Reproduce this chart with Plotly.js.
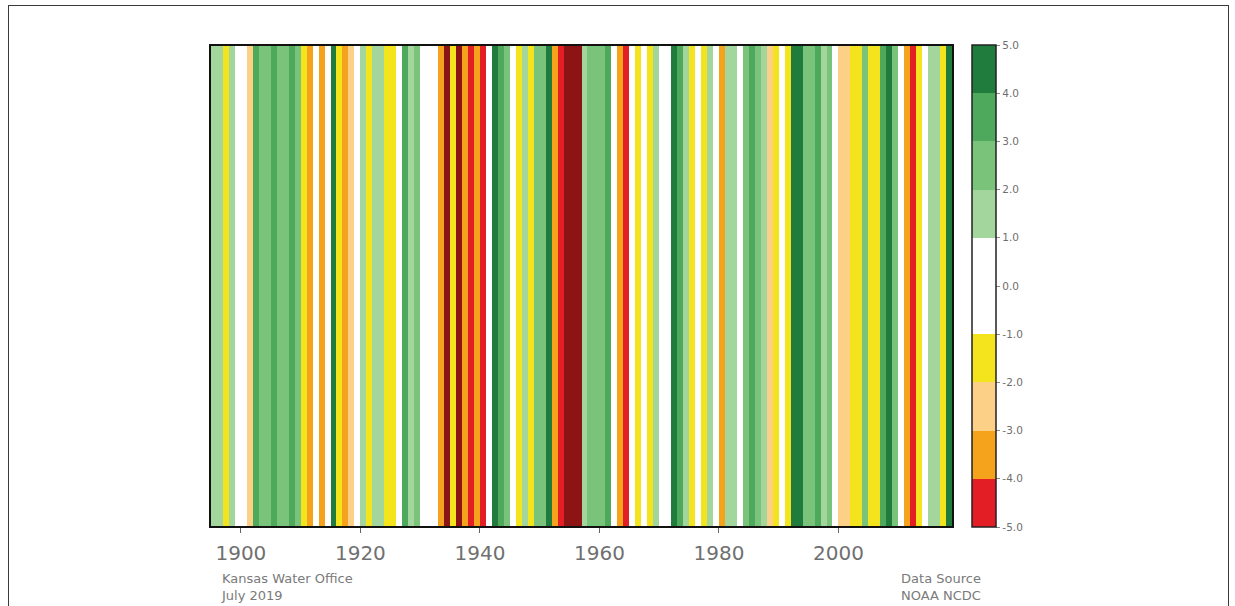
<!DOCTYPE html>
<html>
<head>
<meta charset="utf-8">
<script src="https://cdn.plot.ly/plotly-3.0.1.min.js"></script>
<style>
  html, body { margin: 0; padding: 0; background: #ffffff; }
  #chart { width: 1235px; height: 606px; }
  #frame { position: absolute; left: 8px; top: 5px; width: 1219px; height: 640px;
           border: 1px solid #3a3a3a; pointer-events: none; }
</style>
</head>
<body>
<div id="chart"></div>
<div id="frame"></div>
<script>
// Annual Palmer drought index, Kansas
const firstYear = 1895;
const pdsi = [
  1.4, 1.2, -1.2, 1.3, 0.3,
  -0.2, -2.4, 3.3, 2.6, 2.8, 3.4, 2.6, 2.9, 3.5, 2.7,
  -1.6, -3.2, 0.2, -3.4, 0.5, 4.8, -1.5, -3.3, -2.6, 0.6,
  1.2, -1.4, 1.6, 1.3, -1.3, -1.8, 0.3, 3.3, 1.6, 2.6,
  -0.6, 0.4, 0.1, -3.8, -5.6, -1.8, -5.2, -3.6, -4.2, -3.4,
  -4.5, 0.6, 4.4, 3.8, 2.4, 0.4, -1.4, 1.6, -1.1, 2.0,
  2.6, 4.7, -3.6, -4.6, -5.3, -5.7, -5.8, 1.5, 2.6, 2.3,
  2.9, 3.5, 0.6, -3.4, -4.4, 0.3, -1.8, -0.7, -1.2, 1.7,
  0.2, -0.3, 4.4, 3.3, 1.7, -1.2, 0.4, -1.1, 1.3, 0.5,
  -3.5, 1.6, 1.8, 0.4, 2.6, 3.4, 2.5, 1.2, -2.5, -1.3,
  0.3, -1.4, 4.2, 4.8, 2.3, 2.8, 3.1, 1.8, 2.9, 0.5,
  -2.3, -2.6, -1.8, -1.4, 2.4, -1.6, -1.7, 3.4, 4.3, 2.8,
  0.6, -3.6, -4.6, -1.5, -0.9, 1.6, 1.5, -1.2, 4.3
];
const years = pdsi.map((_, i) => firstYear + i);
const yearTicks = [1900, 1920, 1940, 1960, 1980, 2000];
const cbTicks = [-5, -4, -3, -2, -1, 0, 1, 2, 3, 4, 5];
const noteLeft = ['Kansas Water Office', 'July 2019'];
const noteRight = ['Data Source', 'NOAA NCDC'];

// one colour per unit bin from -6 to 6
const binColors = [
  '#8c1414', // < -5
  '#e31e24', '#f5a21c', '#fdd088', '#f3e41e',
  '#ffffff', '#ffffff',
  '#a3d69d', '#79c37b', '#4fa95d', '#1f7c3c',
  '#14622f'  // > 5
];
function discreteScale(cols) {
  const n = cols.length, s = [];
  cols.forEach((c, i) => { s.push([i / n, c]); s.push([(i + 1) / n, c]); });
  return s;
}
const stripeScale = discreteScale(binColors);
const barScale = discreteScale(binColors.slice(1, 11));

const xEdges = years.concat([years[years.length - 1] + 1]);

const traces = [
  {
    type: 'heatmap',
    x: xEdges,
    y: [0, 1],
    z: [pdsi],
    zmin: -6, zmax: 6,
    colorscale: stripeScale,
    showscale: false,
    zsmooth: false,
    hoverinfo: 'x+z'
  },
  {
    type: 'scatter', mode: 'markers',
    x: [years[0]], y: [0.5],
    hoverinfo: 'skip', showlegend: false,
    marker: {
      size: 1, opacity: 0,
      color: [0], cmin: -5, cmax: 5,
      colorscale: barScale, showscale: true,
      colorbar: {
        x: 1.027, xanchor: 'left', xpad: 0,
        y: 0.5, yanchor: 'middle', ypad: 0,
        len: 1.004, lenmode: 'fraction',
        thickness: 24, thicknessmode: 'pixels',
        outlinewidth: 1.5, outlinecolor: '#222',
        tickmode: 'array',
        tickvals: cbTicks,
        ticktext: cbTicks.map(v => v.toFixed(1)),
        ticks: 'outside', ticklen: 4, tickwidth: 1, tickcolor: '#888',
        tickfont: { family: 'DejaVu Sans', size: 10.5, color: '#6e6e6e' }
      }
    }
  }
];

const layout = {
  width: 1235, height: 606,
  margin: { l: 211, r: 283, t: 46, b: 80 },
  paper_bgcolor: '#ffffff', plot_bgcolor: '#ffffff',
  showlegend: false,
  xaxis: {
    range: [years[0], years[years.length - 1] + 1],
    tickmode: 'array', tickvals: yearTicks,
    ticks: 'outside', ticklen: 5, tickwidth: 1, tickcolor: '#666',
    ticklabelstandoff: 3,
    tickfont: { family: 'DejaVu Sans', size: 20, color: '#707070' },
    showline: true, linecolor: '#111', linewidth: 2, mirror: true,
    showgrid: false, zeroline: false
  },
  yaxis: {
    range: [0, 1], showticklabels: false, ticks: '',
    showline: true, linecolor: '#111', linewidth: 2, mirror: true,
    showgrid: false, zeroline: false
  },
  annotations: [
    {
      xref: 'paper', yref: 'paper', x: 0.011, y: -0.09,
      xanchor: 'left', yanchor: 'top', align: 'left', showarrow: false,
      text: noteLeft.join('<br>'),
      font: { family: 'DejaVu Sans', size: 13, color: '#7a7a7a' }
    },
    {
      xref: 'paper', yref: 'paper', x: 1.0425, y: -0.09,
      xanchor: 'right', yanchor: 'top', align: 'right', showarrow: false,
      text: noteRight.join('<br>'),
      font: { family: 'DejaVu Sans', size: 13, color: '#7a7a7a' }
    }
  ]
};

Plotly.newPlot('chart', traces, layout, { displayModeBar: false, staticPlot: true });
</script>
</body>
</html>
